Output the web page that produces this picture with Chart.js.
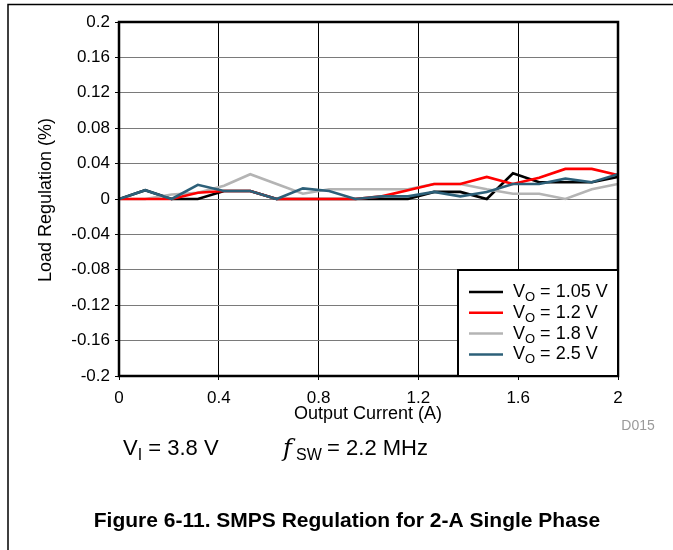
<!DOCTYPE html>
<html>
<head>
<meta charset="utf-8">
<script src="https://cdn.jsdelivr.net/npm/chart.js@4"></script>
<style>
  html, body { margin: 0; padding: 0; background: #fff; }
  #wrap { width: 673px; height: 550px; }
</style>
</head>
<body>
<div id="wrap"><canvas id="chart" width="673" height="550"></canvas></div>
<script>
// output current (A), 20 measurement points from 0 to 2 A
const currents = [0, 0.105, 0.211, 0.316, 0.421, 0.526, 0.632, 0.737, 0.842, 0.947,
                  1.053, 1.158, 1.263, 1.368, 1.474, 1.579, 1.684, 1.789, 1.895, 2];

// load regulation (%) per output voltage
const reg105 = [0, 0.010, 0, 0, 0.009, 0.009, 0, 0, 0, 0,
                0, 0, 0.008, 0.008, 0, 0.029, 0.019, 0.019, 0.019, 0.025];
const reg12  = [0, 0, 0, 0.007, 0.009, 0.009, 0, 0, 0, 0,
                0.003, 0.010, 0.017, 0.017, 0.025, 0.017, 0.024, 0.034, 0.034, 0.027];
const reg18  = [0, 0, 0.005, 0.007, 0.015, 0.028, 0.017, 0.006, 0.011, 0.011,
                0.011, 0.011, 0.017, 0.017, 0.011, 0.006, 0.006, 0, 0.011, 0.017];
const reg25  = [0, 0.010, 0, 0.016, 0.009, 0.009, 0, 0.012, 0.009, 0,
                0.003, 0.003, 0.008, 0.003, 0.008, 0.017, 0.017, 0.023, 0.019, 0.028];

const seriesLabels = ['1.05 V', '1.2 V', '1.8 V', '2.5 V'];
const seriesColors = ['#000000', '#ff0000', '#b4b4b4', '#2d6079'];

const xTicks = [0, 0.4, 0.8, 1.2, 1.6, 2];
const yTicks = [0.2, 0.16, 0.12, 0.08, 0.04, 0, -0.04, -0.08, -0.12, -0.16, -0.2];

const FONT = 'Liberation Sans, Arial, sans-serif';

function points(values) {
    return values.map((v, i) => ({ x: currents[i], y: v }));
}

// text with a subscript part, e.g. V + O
function drawSub(ctx, x, y, main, sub, rest, size) {
    ctx.font = size + 'px ' + FONT;
    ctx.fillText(main, x, y);
    x += ctx.measureText(main).width;
    ctx.font = Math.round(size * 0.72) + 'px ' + FONT;
    ctx.fillText(sub, x, y + size * 0.3);
    x += ctx.measureText(sub).width;
    ctx.font = size + 'px ' + FONT;
    ctx.fillText(rest, x, y);
}

const decorations = {
    id: 'decorations',
    beforeDraw(chart) {
        const ctx = chart.ctx;
        ctx.save();
        ctx.fillStyle = '#fff';
        ctx.fillRect(0, 0, chart.width, chart.height);
        ctx.restore();
    },
    afterDatasetsDraw(chart) {
        const ctx = chart.ctx;
        const a = chart.chartArea;
        ctx.save();

        // plot border
        ctx.strokeStyle = '#000';
        ctx.lineWidth = 2.5;
        ctx.strokeRect(a.left, a.top, a.right - a.left, a.bottom - a.top);

        // legend box
        const lx = 458, ly = 270;
        ctx.fillStyle = '#fff';
        ctx.fillRect(lx, ly, a.right - lx, a.bottom - ly);
        ctx.lineWidth = 2;
        ctx.strokeRect(lx, ly, a.right - lx, a.bottom - ly);
        ctx.textBaseline = 'middle';
        ctx.textAlign = 'left';
        seriesLabels.forEach((lab, i) => {
            const yy = 292 + i * 20.8;
            ctx.strokeStyle = seriesColors[i];
            ctx.lineWidth = 2.5;
            ctx.beginPath();
            ctx.moveTo(469, yy);
            ctx.lineTo(503, yy);
            ctx.stroke();
            ctx.fillStyle = '#000';
            drawSub(ctx, 513, yy, 'V', 'O', ' = ' + lab, 18);
        });

        // frame around the figure
        ctx.strokeStyle = '#000';
        ctx.lineWidth = 1.5;
        ctx.beginPath();
        ctx.moveTo(673, 4.5);
        ctx.lineTo(8, 4.5);
        ctx.lineTo(8, 550);
        ctx.stroke();

        // axis titles
        ctx.fillStyle = '#000';
        ctx.font = '18px ' + FONT;
        ctx.textAlign = 'center';
        ctx.textBaseline = 'middle';
        ctx.fillText('Output Current (A)', 368, 414);
        ctx.save();
        ctx.translate(46, 200);
        ctx.rotate(-Math.PI / 2);
        ctx.fillText('Load Regulation (%)', 0, 0);
        ctx.restore();

        // figure id
        ctx.fillStyle = '#9a9a9a';
        ctx.font = '14px ' + FONT;
        ctx.fillText('D015', 638, 426);

        // test conditions
        ctx.fillStyle = '#000';
        ctx.textAlign = 'left';
        drawSub(ctx, 123, 449, 'V', 'I', ' = 3.8 V', 22);
        ctx.font = 'italic 24px "DejaVu Serif", serif';
        ctx.fillText('f', 283, 450);
        ctx.font = '16px ' + FONT;
        ctx.fillText('SW', 296, 456);
        ctx.font = '22px ' + FONT;
        ctx.fillText(' = 2.2 MHz', 321, 449);

        // caption
        ctx.font = 'bold 21px ' + FONT;
        ctx.textAlign = 'center';
        ctx.fillText('Figure 6-11. SMPS Regulation for 2-A Single Phase', 347, 521);

        ctx.restore();
    }
};

const datasets = [reg105, reg12, reg18, reg25].map((vals, i) => ({
    label: seriesLabels[i],
    data: points(vals),
    borderColor: seriesColors[i],
    borderWidth: 2.6,
    pointRadius: 0,
    tension: 0,
    order: [3, 1, 2, 0][i]
}));

new Chart(document.getElementById('chart'), {
    type: 'line',
    data: { datasets: datasets },
    options: {
        responsive: false,
        animation: false,
        layout: { padding: { top: 22, right: 55, left: 0, bottom: 0 } },
        plugins: {
            legend: { display: false },
            tooltip: { enabled: false }
        },
        scales: {
            x: {
                type: 'linear',
                min: 0,
                max: 2,
                afterFit: s => { s.height = 174; },
                afterBuildTicks: s => { s.ticks = xTicks.map(v => ({ value: v })); },
                grid: { color: '#000', lineWidth: 1, tickLength: 4, tickColor: '#000' },
                border: { display: false },
                ticks: {
                    color: '#000',
                    font: { family: FONT, size: 17 },
                    padding: 8,
                    maxRotation: 0,
                    callback: v => String(parseFloat(v.toFixed(2)))
                }
            },
            y: {
                min: -0.2,
                max: 0.2,
                afterFit: s => { s.width = 119; },
                afterBuildTicks: s => { s.ticks = yTicks.map(v => ({ value: v })); },
                grid: { color: '#7a7a7a', lineWidth: 1, tickLength: 4, tickColor: '#000' },
                border: { display: false },
                ticks: {
                    color: '#000',
                    font: { family: FONT, size: 17 },
                    padding: 5,
                    callback: v => String(parseFloat(v.toFixed(2)))
                }
            }
        }
    },
    plugins: [decorations]
});
</script>
</body>
</html>
